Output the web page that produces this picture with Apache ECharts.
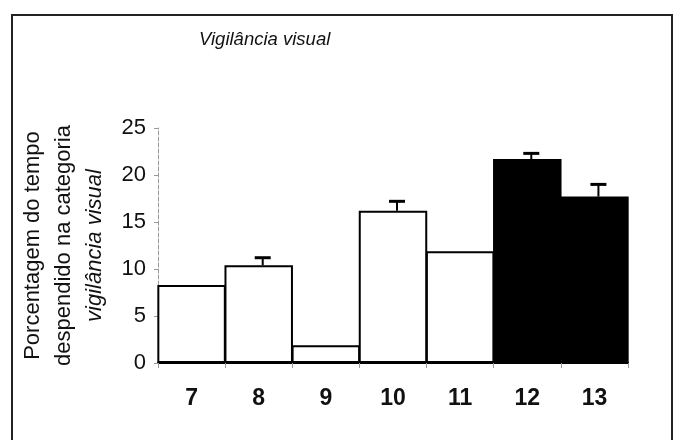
<!DOCTYPE html>
<html>
<head>
<meta charset="utf-8">
<script src="https://cdn.jsdelivr.net/npm/echarts@6/dist/echarts.min.js"></script>
<style>
  html, body { margin: 0; padding: 0; background: #fff; }
  #chart { width: 677px; height: 440px; }
</style>
</head>
<body>
<div id="chart"></div>
<script>
// Age categories (years) shown on the x axis
const categories = ['7', '8', '9', '10', '11', '12', '13'];
// Mean percentage of time spent in visual vigilance
const meanValues = [8.3, 10.4, 1.9, 16.2, 11.9, 21.7, 17.7];
// Upper end of the error bar for each category (null = no bar drawn)
const errorTops = [null, 11.2, null, 17.2, null, 22.3, 19.0];
// Which categories are drawn as filled (dark) bars
const darkBars = [false, false, false, false, false, true, true];
// Y axis tick range
const yMin = 0, yMax = 25, yStep = 5;

const FONT = '"Liberation Sans", Arial, sans-serif';

const barData = meanValues.map((v, i) => ({
  value: v,
  itemStyle: darkBars[i]
    ? { color: '#000', borderColor: '#000', borderWidth: 2 }
    : { color: '#fff', borderColor: '#000', borderWidth: 2 }
}));

const errData = [];
errorTops.forEach((top, i) => {
  if (top !== null) errData.push([i, meanValues[i], top]);
});

const chart = echarts.init(document.getElementById('chart'), null, { renderer: 'canvas' });

chart.setOption({
  animation: false,
  backgroundColor: '#fff',
  title: {
    text: 'Vigilância visual',
    left: 199,
    top: 30,
    padding: 0,
    textStyle: { fontFamily: FONT, fontSize: 18.5, fontStyle: 'italic', fontWeight: 'normal', color: '#111' }
  },
  graphic: [{
    type: 'rect',
    shape: { x: 12, y: 15, width: 660, height: 440 },
    style: { fill: 'none', stroke: '#222', lineWidth: 2 },
    silent: true
  }],
  grid: { left: 158, right: 49, top: 128, bottom: 77 },
  xAxis: {
    type: 'category',
    data: categories,
    axisLine: { lineStyle: { color: '#000', width: 2 } },
    axisTick: { show: true, length: 5, lineStyle: { color: '#999', width: 1 } },
    axisLabel: { fontFamily: FONT, fontSize: 23, fontWeight: 'bold', color: '#111', margin: 24 }
  },
  yAxis: {
    type: 'value',
    min: yMin,
    max: yMax,
    interval: yStep,
    splitLine: { show: false },
    axisLine: { show: true, lineStyle: { color: '#999', width: 1, type: 'dashed' } },
    axisTick: { show: true, length: 4, lineStyle: { color: '#999', width: 1 } },
    axisLabel: { fontFamily: FONT, fontSize: 22, color: '#111', margin: 12 },
    name: '{a|Porcentagem do tempo}\n{a|despendido na categoria}\n{b|vigilância visual}',
    nameLocation: 'middle',
    nameRotate: 90,
    nameGap: 48,
    nameTextStyle: {
      rich: {
        a: { fontFamily: FONT, fontSize: 22, color: '#111', lineHeight: 31 },
        b: { fontFamily: FONT, fontSize: 22, fontStyle: 'italic', color: '#111', lineHeight: 31 }
      }
    }
  },
  series: [
    {
      type: 'bar',
      data: barData,
      barWidth: '102%',
      barGap: '0%',
      z: 2
    },
    {
      type: 'custom',
      data: errData,
      z: 3,
      renderItem: function (params, api) {
        const base = api.coord([api.value(0), api.value(1)]);
        const top = api.coord([api.value(0), api.value(2)]);
        const x = base[0] + 4;
        const half = 8;
        return {
          type: 'group',
          children: [
            { type: 'line', shape: { x1: x, y1: base[1], x2: x, y2: top[1] },
              style: { stroke: '#000', lineWidth: 2 } },
            { type: 'line', shape: { x1: x - half, y1: top[1], x2: x + half, y2: top[1] },
              style: { stroke: '#000', lineWidth: 3 } }
          ]
        };
      }
    }
  ]
});
</script>
</body>
</html>
